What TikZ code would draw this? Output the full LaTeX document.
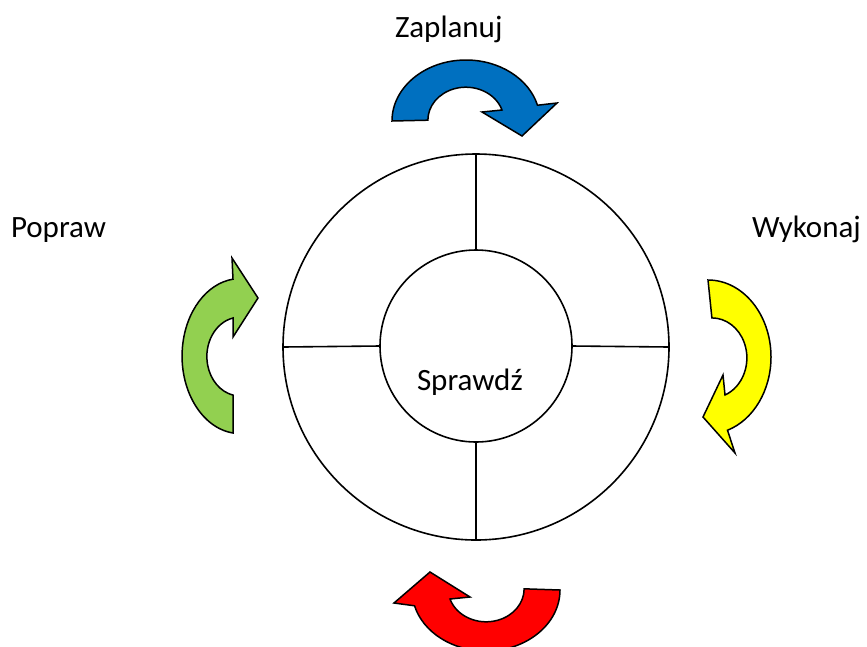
\documentclass[tikz,border=0pt]{standalone}
\usepackage{fontspec}
\setmainfont{Carlito}
\definecolor{cblue}{HTML}{0070C0}
\definecolor{cyellow}{HTML}{FFFF00}
\definecolor{cred}{HTML}{FF0000}
\definecolor{cgreen}{HTML}{92D050}
\begin{document}
\begin{tikzpicture}[x=1pt,y=-1pt,
  lbl/.style={anchor=base west, inner sep=0pt, outer sep=0pt, font=\fontsize{31}{36}\selectfont},
  ring/.style={circle, draw=black, line width=1.6pt, inner sep=0pt, outer sep=0pt},
  spoke/.style={draw=black, line width=1.6pt},
  carrow/.style={draw=black, line width=1.5pt, line join=miter}]
\useasboundingbox (0,0) rectangle (867,646);
\clip (0,0) rectangle (867,646);

% rings
\node[ring, minimum size=386pt] (outer) at (476,347) {};
\node[ring, minimum size=192pt] (inner) at (476,346) {};
\draw[spoke] (outer.north) -- (inner.north);
\draw[spoke] (outer.west) -- (inner.west);
\draw[spoke] (inner.east) -- (outer.east);
\draw[spoke] (inner.south) -- (outer.south);

% labels
\node[lbl] (plan) at (395,37) {Zaplanuj};
\node[lbl] (fix) at (11,237) {Popraw};
\node[lbl] (do) at (752,237) {Wykonaj};
\node[lbl] (check) at (417,390) {Sprawdź};

% blue arrow (top)
\draw[carrow, fill=cblue] (392,121)
  arc[start angle=180, end angle=345, x radius=74, y radius=61]
  -- (557,103) -- (522,136) -- (482,112) -- (502,110)
  arc[start angle=342, end angle=180, x radius=38, y radius=33] -- cycle;

% yellow arrow (right)
\draw[carrow, fill=cyellow] (708,280)
  arc[start angle=-90, end angle=72, x radius=63, y radius=77]
  -- (735,453) -- (703,417) -- (723,375) -- (725,395)
  arc[start angle=68, end angle=-90, x radius=35, y radius=40] -- cycle;

% red arrow (bottom)
\draw[carrow, fill=cred] (560,590)
  arc[start angle=0, end angle=165, x radius=74, y radius=61]
  -- (394,603) -- (430,572) -- (470,597) -- (450,599)
  arc[start angle=162, end angle=0, x radius=38, y radius=33] -- cycle;

% green arrow (left)
\draw[carrow, fill=cgreen] (233,433)
  arc[start angle=97, end angle=263, x radius=58, y radius=77.5]
  -- (232,258) -- (258,298) -- (233,337) -- (233,318)
  arc[start angle=258, end angle=102, x radius=33, y radius=39.4] -- cycle;
\end{tikzpicture}
\end{document}
